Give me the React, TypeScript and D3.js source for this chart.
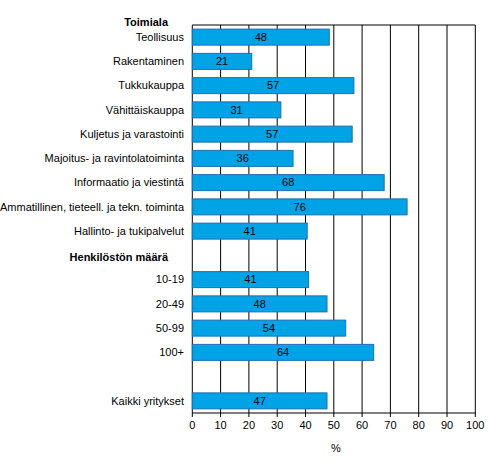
import React from "react";
import * as d3 from "d3";

const categories = [
  "Teollisuus",
  "Rakentaminen",
  "Tukkukauppa",
  "Vähittäiskauppa",
  "Kuljetus ja varastointi",
  "Majoitus- ja ravintolatoiminta",
  "Informaatio ja viestintä",
  "Ammatillinen, tieteell. ja tekn. toiminta",
  "Hallinto- ja tukipalvelut",
  "Henkilöstön määrä",
  "10-19",
  "20-49",
  "50-99",
  "100+",
  "",
  "Kaikki yritykset",
];
const values: (number | null)[] = [48.4, 21, 57.1, 31.3, 56.5, 35.6, 67.8, 75.9, 40.6, null, 41.1, 47.6, 54.2, 64.1, null, 47.6];
const labels: (string | null)[] = ["48", "21", "57", "31", "57", "36", "68", "76", "41", null, "41", "48", "54", "64", null, "47"];
const headings = ["Toimiala", "Henkilöstön määrä"];
const xTicks = [0, 10, 20, 30, 40, 50, 60, 70, 80, 90, 100];
const xTitle = "%";

export default function App() {
  const W = 493, H = 473;
  const left = 192.3, right = 475.3, top = 25, bottom = 413;
  const x = d3.scaleLinear().domain([0, 100]).range([left, right]);
  const y = d3.scaleBand<number>().domain(categories.map((_, i) => i)).range([top, bottom]).paddingInner(0.34).paddingOuter(0.17);
  const step = y.step();
  const font = "Arial, 'Liberation Sans', sans-serif";
  return (
    <svg width={W} height={H} style={{ position: "absolute", left: 0, top: 0, background: "#fff" }} fontFamily={font}>
      <rect x={0} y={0} width={W} height={H} fill="#fff" />
      {xTicks.map((t) => (
        <line key={"g" + t} x1={x(t)} x2={x(t)} y1={top} y2={bottom + 4} stroke="#000" strokeWidth={1} />
      ))}
      <line x1={left} x2={right} y1={top} y2={top} stroke="#000" strokeWidth={1} />
      <line x1={left} x2={right} y1={bottom} y2={bottom} stroke="#000" strokeWidth={1} />
      {values.map((v, i) =>
        v == null ? null : (
          <g key={"b" + i}>
            <rect x={x(0)} y={y(i)!} width={x(v) - x(0)} height={y.bandwidth()} fill="#00A3E6" stroke="#1F6FAE" strokeWidth={1} />
            <text x={(x(0) + x(v)) / 2} y={y(i)! + y.bandwidth() / 2} dy="0.35em" textAnchor="middle" fontSize={11} fill="#000">
              {labels[i]}
            </text>
          </g>
        )
      )}
      {categories.map((c, i) =>
        headings.includes(c) ? null : (
          <text key={"c" + i} x={184} y={top + step * (i + 0.5)} dy="0.35em" textAnchor="end" fontSize={11} fill="#000">
            {c}
          </text>
        )
      )}
      <text x={168} y={top - 3} dy="0.35em" textAnchor="end" fontSize={11} fontWeight="bold">{headings[0]}</text>
      <text x={168} y={top + step * (categories.indexOf(headings[1]) + 0.5) + 2} dy="0.35em" textAnchor="end" fontSize={11} fontWeight="bold">{headings[1]}</text>
      {xTicks.map((t) => (
        <text key={"t" + t} x={x(t)} y={425} dy="0.35em" textAnchor="middle" fontSize={11}>{t}</text>
      ))}
      <text x={336} y={448} dy="0.35em" textAnchor="middle" fontSize={11}>{xTitle}</text>
    </svg>
  );
}
